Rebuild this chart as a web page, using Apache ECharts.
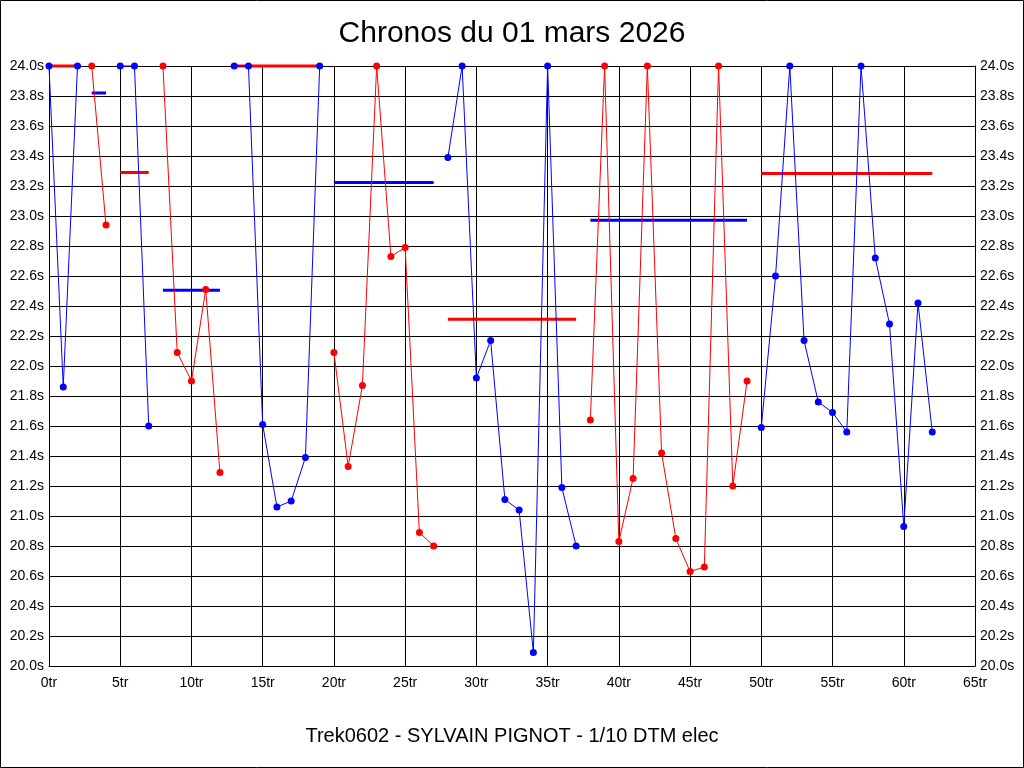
<!DOCTYPE html>
<html>
<head>
<meta charset="utf-8">
<script src="https://cdn.jsdelivr.net/npm/echarts@6/dist/echarts.min.js"></script>
<style>
html,body{margin:0;padding:0;background:#fff;}
#chart{width:1024px;height:768px;}
</style>
</head>
<body>
<div id="chart"></div>
<script>
// Lap times (s), lap index 0..62
const lapTimes = [
  24.0, 21.86, 24.0,
  24.0, 22.94,
  24.0, 24.0, 21.60,
  24.0, 22.09, 21.90, 22.51, 21.29,
  24.0, 24.0, 21.61, 21.06, 21.10, 21.39, 24.0,
  22.09, 21.33, 21.87, 24.0, 22.73, 22.79, 20.89, 20.80,
  23.39, 24.0, 21.92, 22.17, 21.11, 21.04, 20.09, 24.0, 21.19, 20.80,
  21.64, 24.0, 20.83, 21.25, 24.0, 21.42, 20.85, 20.63, 20.66, 24.0, 21.20, 21.90,
  21.59, 22.60, 24.0, 22.17, 21.76, 21.69, 21.56, 24.0, 22.72, 22.28, 20.93, 22.42, 21.56
];
// First lap of each run (runs alternate blue / red)
const runStarts = [0, 3, 5, 8, 13, 20, 28, 38, 50];
// Horizontal reference value drawn over each run
const runRefs = [24.0, 23.82, 23.29, 22.505, 24.0, 23.224, 22.311, 22.971, 23.284];
const xTicks = { min: 0, max: 65, step: 5 };
const yTicks = { min: 20, max: 24, step: 0.2 };
const titleText = 'Chronos du 01 mars 2026';
const footerText = 'Trek0602 - SYLVAIN PIGNOT - 1/10 DTM elec';

const BLUE = '#0000ff', RED = '#ff0000';
const FONT = '"Liberation Sans", Arial, sans-serif';

const series = [];
runStarts.forEach((s, i) => {
  const e = (i + 1 < runStarts.length ? runStarts[i + 1] : lapTimes.length) - 1;
  const col = i % 2 === 0 ? BLUE : RED;
  const opp = i % 2 === 0 ? RED : BLUE;
  series.push({
    type: 'line',
    data: [[s, runRefs[i]], [e, runRefs[i]]],
    symbol: 'none',
    lineStyle: { color: opp, width: 3 },
    clip: false,
    z: 3,
    silent: true
  });
  const pts = [];
  for (let k = s; k <= e; k++) pts.push([k, lapTimes[k]]);
  series.push({
    type: 'line',
    data: pts,
    symbol: 'circle',
    symbolSize: 7,
    itemStyle: { color: col },
    lineStyle: { color: col, width: 1 },
    clip: false,
    z: 4,
    silent: true
  });
});

const yAxisBase = {
  type: 'value',
  min: yTicks.min, max: yTicks.max, interval: yTicks.step,
  axisLine: { show: true, lineStyle: { color: '#000', width: 1 } },
  axisTick: { show: false },
  axisLabel: { color: '#000', fontFamily: FONT, fontSize: 14, margin: 5,
    formatter: v => v.toFixed(1) + 's' }
};

const chart = echarts.init(document.getElementById('chart'), null, { renderer: 'canvas' });
chart.setOption({
  animation: false,
  backgroundColor: '#fff',
  title: [
    { text: titleText, left: 'center', top: 14,
      textStyle: { fontFamily: FONT, fontSize: 30, fontWeight: 'normal', color: '#000' } },
    { text: footerText, left: 'center', top: 721,
      textStyle: { fontFamily: FONT, fontSize: 20, fontWeight: 'normal', color: '#000' } }
  ],
  graphic: [{
    type: 'rect', shape: { x: 0.5, y: 0.5, width: 1023, height: 767 },
    style: { fill: null, stroke: '#000', lineWidth: 1 }, silent: true
  }],
  grid: { left: 49, right: 49, top: 66, bottom: 102, containLabel: false },
  xAxis: {
    type: 'value', min: xTicks.min, max: xTicks.max, interval: xTicks.step,
    axisLine: { show: true, onZero: false, lineStyle: { color: '#000', width: 1 } },
    axisTick: { show: false },
    splitLine: { show: true, lineStyle: { color: '#000', width: 1 } },
    axisLabel: { color: '#000', fontFamily: FONT, fontSize: 14, margin: 10,
      formatter: v => v + 'tr' }
  },
  yAxis: [
    Object.assign({}, yAxisBase, { position: 'left',
      splitLine: { show: true, lineStyle: { color: '#000', width: 1 } } }),
    Object.assign({}, yAxisBase, { position: 'right', splitLine: { show: false } })
  ],
  series: series
});
</script>
</body>
</html>
